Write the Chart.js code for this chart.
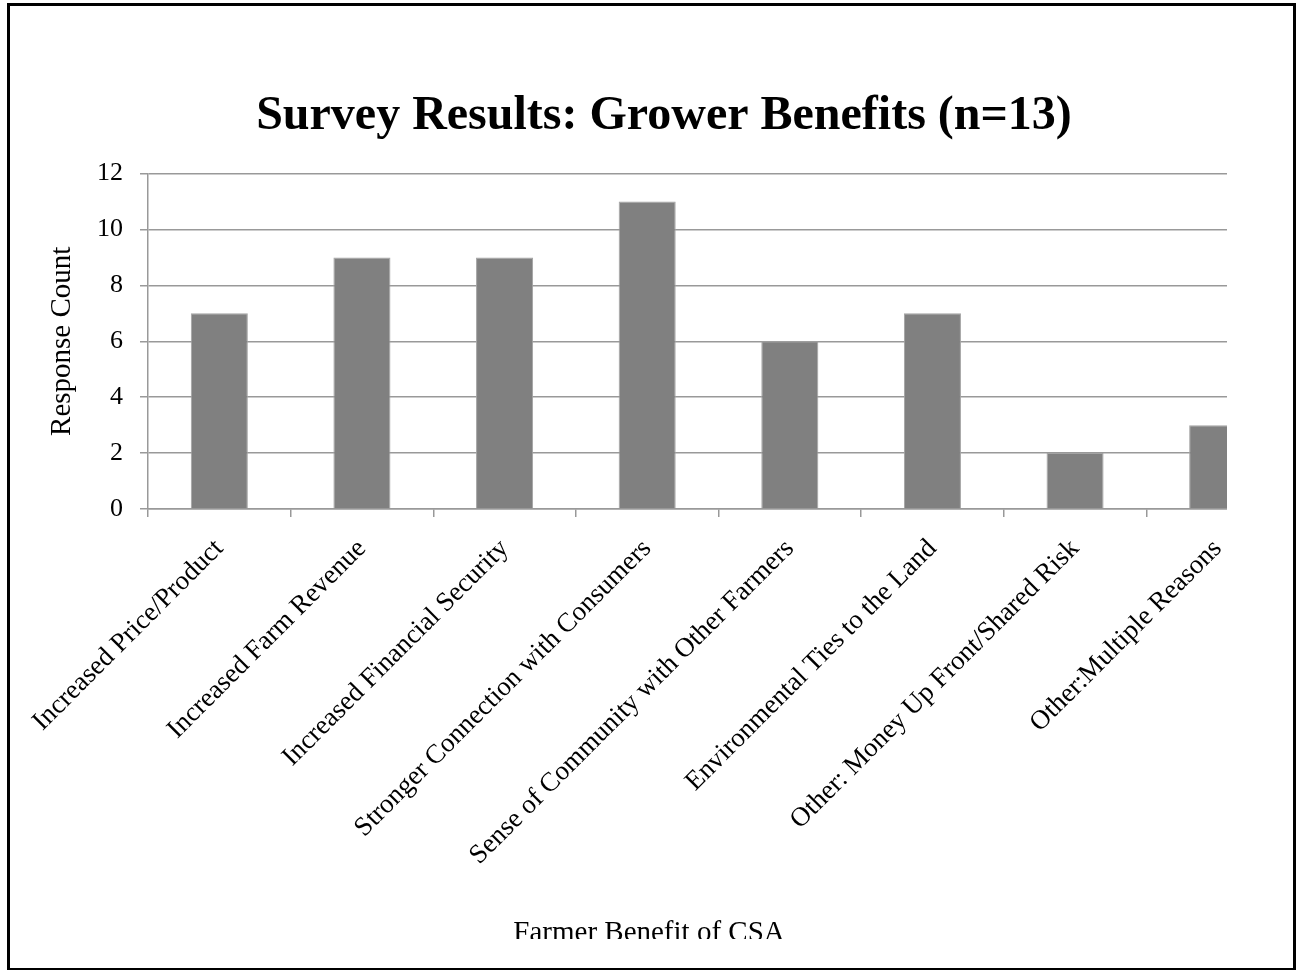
<!DOCTYPE html>
<html>
<head>
<meta charset="utf-8">
<title>Survey Results: Grower Benefits</title>
<script src="https://cdn.jsdelivr.net/npm/chart.js@4"></script>
<style>
  html, body { margin: 0; padding: 0; background: #fff; overflow: hidden; }
  #wrap { position: relative; width: 1296px; height: 972px; }
  #frame {
    position: absolute; left: 7px; top: 3px; width: 1289px; height: 967px;
    box-sizing: border-box; border: 3px solid #000; border-bottom-width: 2px;
    pointer-events: none;
  }
</style>
</head>
<body>
<div id="wrap">
  <canvas id="chartCanvas" width="1296" height="972"></canvas>
  <div id="frame"></div>
</div>
<script>
const benefits = [
  'Increased Price/Product',
  'Increased Farm Revenue',
  'Increased Financial Security',
  'Stronger Connection with Consumers',
  'Sense of Community with Other Farmers',
  'Environmental Ties to the Land',
  'Other: Money Up Front/Shared Risk',
  'Other:Multiple Reasons'
];
const responses = [7, 9, 9, 11, 6, 7, 2, 3];
const countTicks = [0, 2, 4, 6, 8, 10, 12];

const serif = '"Liberation Serif", "Times New Roman", serif';

// axis caption sits centred on the slide, not on the plot
const xCaption = {
  id: 'xCaption',
  afterDraw(chart) {
    const c = chart.ctx;
    c.save();
    c.fillStyle = '#000';
    c.font = '29px ' + serif;
    c.textAlign = 'center';
    c.textBaseline = 'alphabetic';
    c.fillText('Farmer Benefit of CSA', 649, 941);
    c.restore();
  }
};

// the plot runs off the right side of the slide and the caption off the bottom
const slideClip = {
  id: 'slideClip',
  beforeDraw(chart) {
    const c = chart.ctx;
    c.save();
    c.beginPath();
    c.rect(0, 0, 1227, 939);
    c.clip();
  },
  afterDraw(chart) {
    chart.ctx.restore();
  }
};

const ctx = document.getElementById('chartCanvas').getContext('2d');
window.myChart = new Chart(ctx, {
  type: 'bar',
  data: {
    labels: benefits,
    datasets: [{
      label: 'Response Count',
      data: responses,
      backgroundColor: '#808080',
      borderColor: '#a3a3a3',
      borderWidth: 1,
      barPercentage: 0.4,
      categoryPercentage: 1
    }]
  },
  plugins: [xCaption, slideClip],
  options: {
    responsive: false,
    animation: false,
    layout: { padding: { left: 39, right: 7, top: 0, bottom: 0 } },
    plugins: {
      legend: { display: false },
      tooltip: { enabled: false },
      title: {
        display: true,
        text: 'Survey Results: Grower Benefits (n=13)',
        color: '#000',
        font: { family: serif, size: 48, weight: 'bold' },
        padding: { top: 88, bottom: 28 }
      }
    },
    scales: {
      x: {
        grid: { drawOnChartArea: false, drawTicks: true, tickLength: 8, color: '#999', lineWidth: 1.5 },
        border: { display: true, color: '#999', width: 1.5 },
        ticks: {
          color: '#000',
          font: { family: serif, size: 27 },
          minRotation: 45,
          maxRotation: 45,
          autoSkip: false,
          padding: 16
        },
        afterFit(scale) { scale.height = 463; }
      },
      y: {
        min: 0,
        max: 12,
        afterBuildTicks(scale) { scale.ticks = countTicks.map(v => ({ value: v })); },
        grid: { color: '#999', lineWidth: 1.5, tickLength: 8 },
        border: { display: true, color: '#999', width: 1.5 },
        ticks: { color: '#000', font: { family: serif, size: 26 }, padding: 17 },
        title: {
          display: true,
          text: 'Response Count',
          color: '#000',
          font: { family: serif, size: 29 },
          padding: { top: 6, bottom: 0 }
        },
        afterFit(scale) { scale.width = 109; }
      }
    }
  }
});
</script>
</body>
</html>
